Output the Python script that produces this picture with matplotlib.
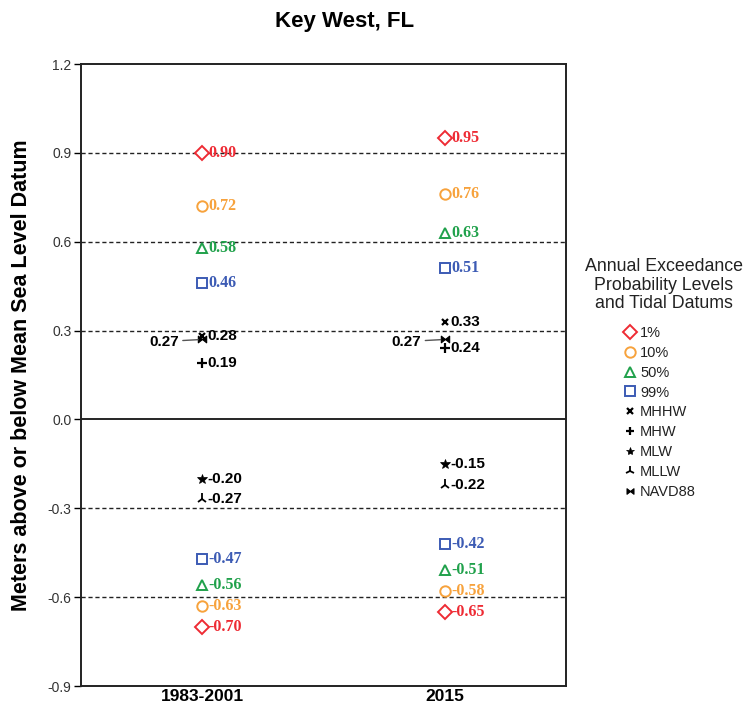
import matplotlib
matplotlib.use("Agg")
import matplotlib.pyplot as plt
from matplotlib.path import Path
from matplotlib.lines import Line2D
from matplotlib import font_manager

periods = ["1983-2001", "2015"]

# Annual exceedance probability levels (upper and lower), metres relative to MSL
aep_levels = ["1%", "10%", "50%", "99%"]
aep_upper = {
    "1%": [0.90, 0.95],
    "10%": [0.72, 0.76],
    "50%": [0.58, 0.63],
    "99%": [0.46, 0.51],
}
aep_lower = {
    "1%": [-0.70, -0.65],
    "10%": [-0.63, -0.58],
    "50%": [-0.56, -0.51],
    "99%": [-0.47, -0.42],
}

# Tidal datums, metres relative to MSL
datums = ["MHHW", "MHW", "MLW", "MLLW", "NAVD88"]
datum_values = {
    "MHHW": [0.28, 0.33],
    "MHW": [0.19, 0.24],
    "MLW": [-0.20, -0.15],
    "MLLW": [-0.27, -0.22],
    "NAVD88": [0.27, 0.27],
}

y_ticks = [-0.9, -0.6, -0.3, 0.0, 0.3, 0.6, 0.9, 1.2]
grid_levels = [-0.6, -0.3, 0.3, 0.6, 0.9]

available = {f.name for f in font_manager.fontManager.ttflist}
narrow = "Liberation Sans Narrow" if "Liberation Sans Narrow" in available else "Liberation Sans"

aep_style = {
    "1%": dict(marker="D", color="#ee2b34", ms=7.5),
    "10%": dict(marker="o", color="#f7a23c", ms=7.5),
    "50%": dict(marker="^", color="#20a14b", ms=7.5),
    "99%": dict(marker="s", color="#3c5bb4", ms=7.5),
}

bowtie = Path([(-1, -0.8), (-1, 0.8), (0, 0), (-1, -0.8),
               (1, -0.8), (1, 0.8), (0, 0), (1, -0.8)],
              [Path.MOVETO, Path.LINETO, Path.LINETO, Path.CLOSEPOLY,
               Path.MOVETO, Path.LINETO, Path.LINETO, Path.CLOSEPOLY])

datum_style = {
    "MHHW": dict(marker="x", ms=5, mew=1.6),
    "MHW": dict(marker="+", ms=7, mew=1.6),
    "MLW": dict(marker="*", ms=7, mew=0.5),
    "MLLW": dict(marker="2", ms=8, mew=1.3),
    "NAVD88": dict(marker=bowtie, ms=6, mew=0.8),
}

fig = plt.figure(figsize=(7.52, 7.06), dpi=100)
ax = fig.add_axes([81 / 752, 20 / 706, 485 / 752, 622 / 706])

xs = list(range(len(periods)))

for y in grid_levels:
    ax.axhline(y, color="#222222", lw=1.0, ls=(0, (3, 2)), zorder=1)
ax.axhline(0.0, color="black", lw=1.2, zorder=1)

serif_font = dict(family="Liberation Serif", weight="bold", fontsize=11.5)
sans_font = dict(family=narrow, weight="bold", fontsize=11)

for lvl in aep_levels:
    st = aep_style[lvl]
    for vals in (aep_upper[lvl], aep_lower[lvl]):
        ax.plot(xs, vals, ls="none", marker=st["marker"], ms=st["ms"],
                mfc="white", mec=st["color"], mew=1.4, zorder=3)
        for x, v in zip(xs, vals):
            ax.annotate(f"{v:.2f}", (x, v), xytext=(4.5, 0),
                        textcoords="offset points", va="center", ha="left",
                        color=st["color"], **serif_font)

for d in datums:
    st = datum_style[d]
    vals = datum_values[d]
    ax.plot(xs, vals, ls="none", color="black", mfc="black", mec="black",
            zorder=3, **{k: st[k] for k in ("marker", "ms", "mew")})
    for x, v in zip(xs, vals):
        if d == "NAVD88":
            ax.annotate(f"{v:.2f}", (x, v), xytext=(-17, -1.5),
                        textcoords="offset points", va="center", ha="right",
                        color="black",
                        arrowprops=dict(arrowstyle="-", color="#555555",
                                        lw=1.0, shrinkA=1, shrinkB=3),
                        **sans_font)
        else:
            ax.annotate(f"{v:.2f}", (x, v), xytext=(4, 0),
                        textcoords="offset points", va="center", ha="left",
                        color="black", **sans_font)

ax.set_xlim(-0.5, 1.5)
ax.set_ylim(-0.9, 1.2)
ax.set_yticks(y_ticks)
ax.set_yticklabels([f"{t:.1f}" for t in y_ticks], family="Liberation Sans",
                   fontsize=10, color="#333333")
ax.set_xticks(xs)
ax.set_xticklabels(periods, family=narrow, weight="bold", fontsize=12.5)
ax.tick_params(axis="x", length=0, pad=2.5)
ax.tick_params(axis="y", length=5, width=1.0, direction="out", pad=2)
for sp in ax.spines.values():
    sp.set_linewidth(1.4)
    sp.set_color("#222222")

fig.text(22 / 752, 1 - 375 / 706, "Meters above or below Mean Sea Level Datum",
         rotation=90, va="center", ha="center", family="Liberation Sans",
         weight="bold", fontsize=15.5)
fig.text(345 / 752, 1 - 22 / 706, "Key West, FL", ha="center", va="center",
         family="Liberation Sans", weight="bold", fontsize=16)

# Legend title drawn separately so its spacing above the entries can be set
fig.text(664 / 752, 1 - 285 / 706,
         "Annual Exceedance\nProbability Levels\nand Tidal Datums",
         ha="center", va="center", multialignment="center",
         family="Liberation Sans", fontsize=12.8, linespacing=1.15,
         color="#222222")

handles = []
labels = []
for lvl in aep_levels:
    st = aep_style[lvl]
    handles.append(Line2D([], [], ls="none", marker=st["marker"],
                          ms=st["ms"], mfc="white", mec=st["color"],
                          mew=1.4))
    labels.append(lvl)
for d in datums:
    st = datum_style[d]
    handles.append(Line2D([], [], ls="none", color="black", mfc="black",
                          mec="black", marker=st["marker"], ms=st["ms"] - 1,
                          mew=st["mew"]))
    labels.append(d)

leg = fig.legend(handles, labels,
                 loc="upper left", bbox_to_anchor=(624 / 752, 1 - 326 / 706),
                 frameon=False, handlelength=0.8, handletextpad=0.3,
                 labelspacing=0.4, borderpad=0.0, borderaxespad=0.0,
                 prop=dict(family="Liberation Sans", size=10.5))
for t in leg.get_texts():
    t.set_color("#222222")

fig.savefig("out.png", dpi=100, facecolor="white")
